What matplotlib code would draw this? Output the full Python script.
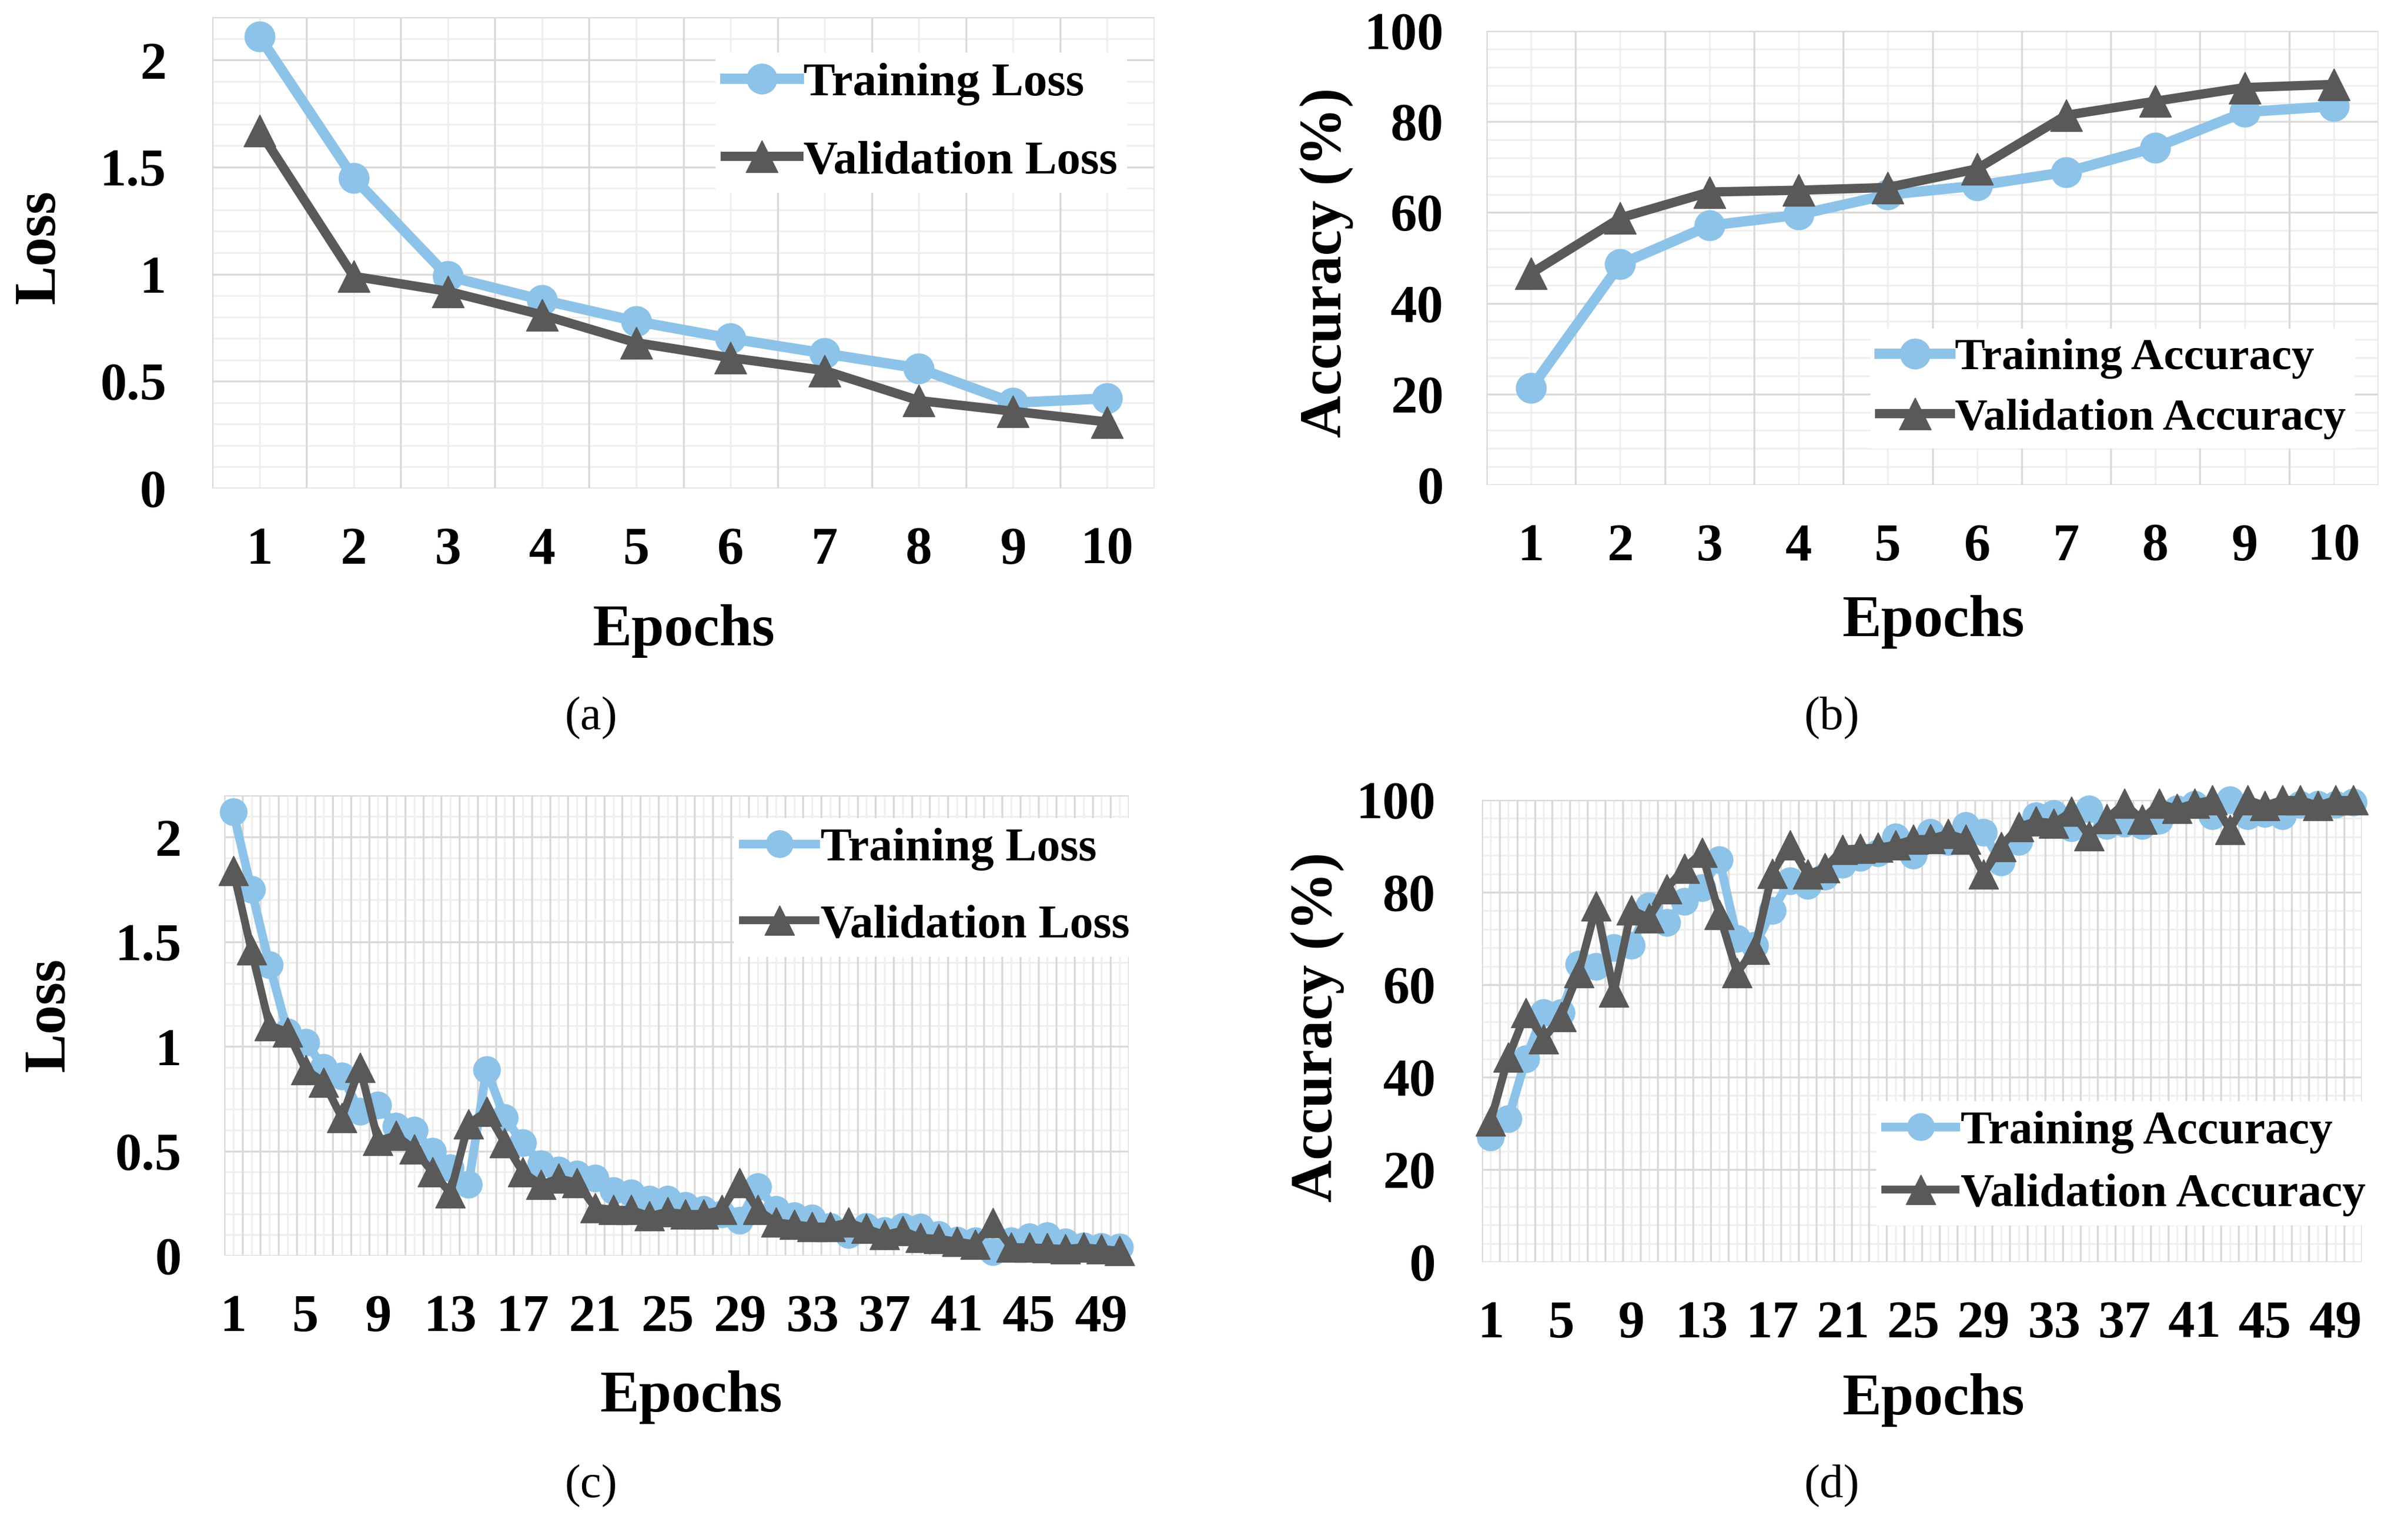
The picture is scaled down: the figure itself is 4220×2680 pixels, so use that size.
import numpy as np
import matplotlib
matplotlib.use('Agg')
import matplotlib.pyplot as plt

# ---- data ----
epochs_10 = np.arange(1, 11)
epochs_50 = np.arange(1, 51)

train_loss_a = [2.11, 1.45, 0.99, 0.88, 0.78, 0.70, 0.63, 0.56, 0.40, 0.42]
val_loss_a = [1.67, 0.99, 0.92, 0.81, 0.68, 0.61, 0.55, 0.41, 0.36, 0.31]

train_acc_b = [21.3, 48.6, 57.1, 59.5, 63.9, 65.9, 68.9, 74.3, 82.1, 83.4]
val_acc_b = [46.6, 58.8, 64.5, 64.9, 65.5, 69.6, 81.4, 84.5, 87.5, 88.2]

train_loss_c = [2.12, 1.75, 1.39, 1.07, 1.02, 0.90, 0.86, 0.69, 0.72, 0.62,
                0.60, 0.50, 0.42, 0.34, 0.89, 0.66, 0.54, 0.44, 0.41, 0.39,
                0.37, 0.31, 0.30, 0.27, 0.27, 0.24, 0.22, 0.20, 0.17, 0.33,
                0.22, 0.19, 0.18, 0.14, 0.10, 0.14, 0.12, 0.14, 0.135, 0.10,
                0.074, 0.07, 0.02, 0.07, 0.09, 0.096, 0.065, 0.047, 0.043, 0.04]
val_loss_c = [1.84, 1.46, 1.10, 1.07, 0.89, 0.83, 0.66, 0.90, 0.55, 0.575,
              0.51, 0.40, 0.30, 0.63, 0.69, 0.54, 0.40, 0.34, 0.37, 0.35,
              0.23, 0.22, 0.22, 0.19, 0.21, 0.20, 0.20, 0.22, 0.35, 0.22,
              0.16, 0.15, 0.14, 0.14, 0.16, 0.13, 0.10, 0.12, 0.086, 0.081,
              0.068, 0.055, 0.157, 0.041, 0.041, 0.037, 0.033, 0.04, 0.033, 0.024]

train_acc_d = [27, 31, 44, 54, 54, 64.5, 64, 68, 68.5, 77,
               73.5, 78, 81, 87, 70, 68.5, 76, 82.5, 81.5, 83.5,
               86, 87.5, 88.5, 92, 88, 93, 91, 94.5, 93, 86.5,
               91, 96.5, 97, 94, 98, 94.5, 95, 94.5, 95.5, 98,
               99, 96.5, 100, 96.5, 97, 96.5, 99, 99, 99, 99.5]
val_acc_d = [30.5, 44.3, 53.9, 48.3, 53.1, 62.6, 77, 58.4, 76.2, 74.5,
             80.8, 85.2, 88.6, 75.2, 62.6, 67.7, 84.1, 90.3, 83.9, 85.3,
             89.3, 89.5, 89.7, 90.3, 91.5, 91.6, 92.7, 91.5, 83.9, 89.9,
             94.2, 95.4, 95.0, 97.5, 92.2, 95.9, 99.2, 95.8, 99.2, 98.1,
             99.3, 100, 93.6, 100, 98.8, 100, 100, 98.8, 100, 100]

W, H = 4220, 2680
LIGHT = '#8DC3E8'
DARK = '#595959'
GRID_MAJ = '#D9D9D9'
GRID_MIN = '#EFEFEF'

plt.rcParams['font.family'] = ['Liberation Serif', 'DejaVu Serif']

fig = plt.figure(figsize=(W / 100, H / 100), dpi=100)


def box(l, t, r, b):
    return [l / W, 1 - b / H, (r - l) / W, (b - t) / H]


def fpos(x, y):
    return x / W, 1 - y / H


def setup(ax, n, ymax, ymaj, ymin_step, xlabels, ypad, xpad):
    ax.set_xlim(0.5, n + 0.5)
    ax.set_ylim(0, ymax)
    # excel style grid: light lines on categories, darker between them
    for v in np.arange(1, n + 1):
        ax.axvline(v, color=GRID_MIN, lw=2.2, zorder=0)
    for v in np.arange(ymin_step, ymax + 1e-9, ymin_step):
        ax.axhline(v, color=GRID_MIN, lw=2.2, zorder=0)
    for v in np.arange(0.5, n + 1):
        ax.axvline(v, color=GRID_MAJ, lw=2.4, zorder=0.5)
    for v in np.arange(0, ymax + 1e-9, ymaj):
        ax.axhline(v, color=GRID_MAJ, lw=2.4, zorder=0.5)
    ax.axhline(ymax, color=GRID_MAJ, lw=2.4, zorder=0.5)
    for s in ax.spines.values():
        s.set_visible(False)
    ax.set_xticks(xlabels)
    ax.set_xticklabels([str(v) for v in xlabels])
    yt = [v for v in np.arange(0, ymax + 1e-9, ymaj)]
    ax.set_yticks(yt)
    ax.set_yticklabels(['{:g}'.format(round(v, 2)) for v in yt])
    ax.tick_params(axis='both', length=0, labelsize=67)
    ax.tick_params(axis='y', pad=ypad)
    ax.tick_params(axis='x', pad=xpad)
    for lab in ax.get_xticklabels() + ax.get_yticklabels():
        lab.set_fontweight('bold')


def draw(ax, x, tr, va, ms_c, ms_t, lw):
    l1, = ax.plot(x, tr, color=LIGHT, lw=lw, marker='o', ms=ms_c, zorder=3, clip_on=False)
    l2, = ax.plot(x, va, color=DARK, lw=lw * 0.9, marker='^', ms=ms_t, zorder=4, clip_on=False)
    return [l1, l2]


def legend(ax, handles, labels, left, top, fs, spacing, hl):
    leg = ax.legend(handles, labels, loc='upper left', bbox_to_anchor=fpos(left, top),
                    bbox_transform=fig.transFigure, fontsize=fs, frameon=True,
                    fancybox=False, framealpha=1, edgecolor='none', facecolor='white',
                    borderpad=0.2, borderaxespad=0, handlelength=hl,
                    handletextpad=0.1, labelspacing=spacing)
    for t in leg.get_texts():
        t.set_fontweight('bold')
    leg.set_zorder(10)


# (a)
ax_a = fig.add_axes(box(372, 30, 2023, 856))
setup(ax_a, 10, 2.2, 0.5, 0.1, list(epochs_10), 58, 48)
h = draw(ax_a, epochs_10, train_loss_a, val_loss_a, 38, 40, 13)
legend(ax_a, h, ['Training Loss', 'Validation Loss'], 1254, 92, 60, 0.72, 1.55)

# (b)
ax_b = fig.add_axes(box(2605, 54, 4168, 850))
setup(ax_b, 10, 100, 20, 4, list(epochs_10), 54, 48)
h = draw(ax_b, epochs_10, train_acc_b, val_acc_b, 38, 40, 13)
legend(ax_b, h, ['Training Accuracy', 'Validation Accuracy'], 3278, 576, 57, 0.42, 1.57)

# (c)
ax_c = fig.add_axes(box(393, 1394, 1978, 2201))
setup(ax_c, 50, 2.2, 0.5, 0.1, list(range(1, 50, 4)), 54, 48)
h = draw(ax_c, epochs_50, train_loss_c, val_loss_c, 34, 38, 11)
legend(ax_c, h, ['Training Loss', 'Validation Loss'], 1286, 1434, 59, 0.72, 1.55)

# (d)
ax_d = fig.add_axes(box(2597, 1402, 4139, 2212))
setup(ax_d, 50, 100, 20, 4, list(range(1, 50, 4)), 58, 48)
h = draw(ax_d, epochs_50, train_acc_d, val_acc_d, 34, 38, 11)
legend(ax_d, h, ['Training Accuracy', 'Validation Accuracy'], 3288, 1930, 59, 0.42, 1.5)

# axis titles and captions
lab = dict(fontsize=74, fontweight='bold', ha='center', va='center')
fig.text(*fpos(70, 433), 'Loss', rotation=90, **lab)
fig.text(*fpos(1198, 1106), 'Epochs', **lab)
fig.text(*fpos(2325, 460), 'Accuracy (%)', rotation=90, **lab)
fig.text(*fpos(3388, 1090), 'Epochs', **lab)
fig.text(*fpos(87, 1779), 'Loss', rotation=90, **lab)
fig.text(*fpos(1211, 2449), 'Epochs', **lab)
fig.text(*fpos(2309, 1800), 'Accuracy (%)', rotation=90, **lab)
fig.text(*fpos(3388, 2454), 'Epochs', **lab)

cap = dict(fontsize=60, ha='center', va='center')
fig.text(*fpos(1036, 1259), '(a)', **cap)
fig.text(*fpos(3210, 1259), '(b)', **cap)
fig.text(*fpos(1036, 2605), '(c)', **cap)
fig.text(*fpos(3210, 2605), '(d)', **cap)

fig.savefig('out.png', dpi=100, facecolor='white')
